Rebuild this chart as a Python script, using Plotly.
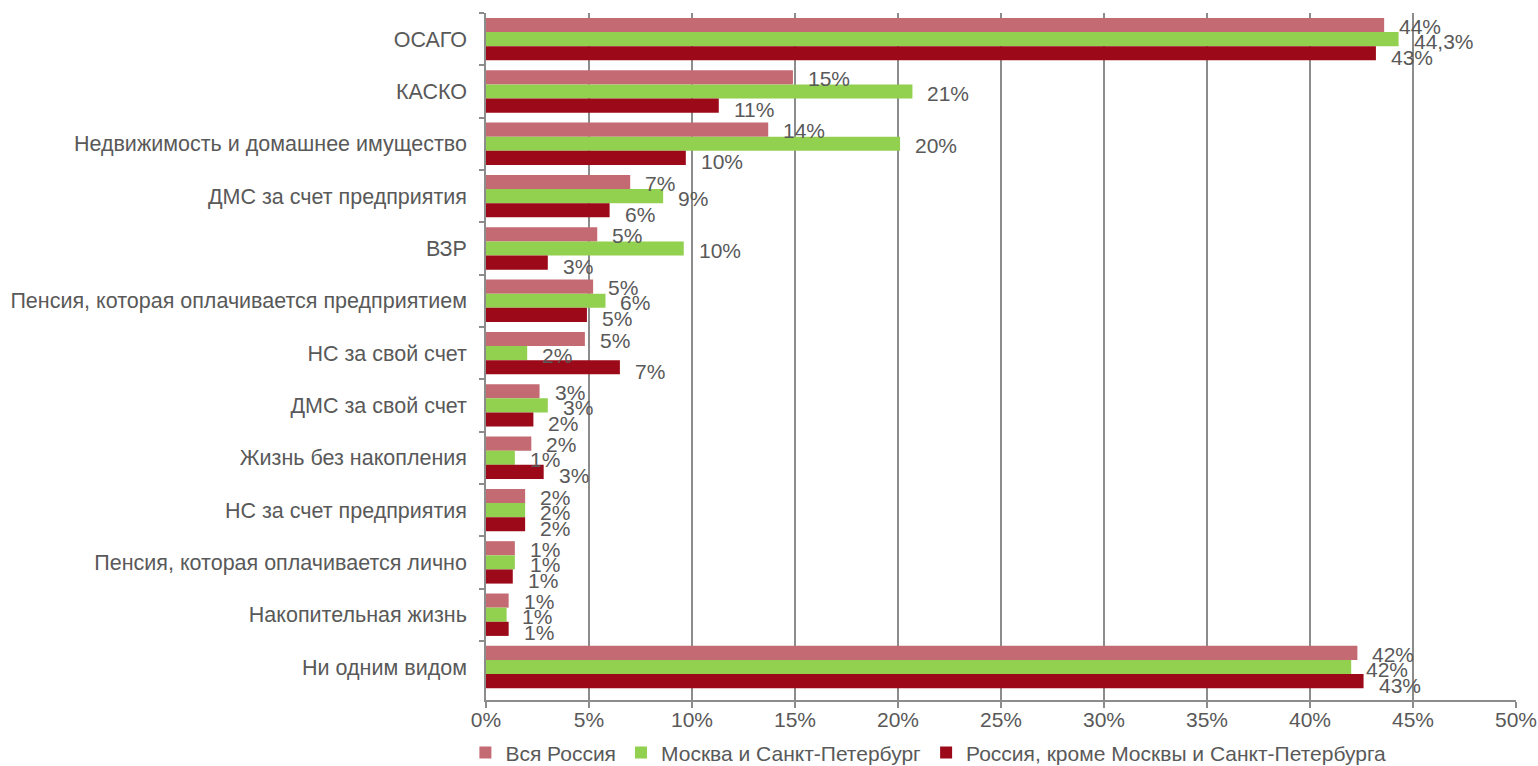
import math
import plotly.graph_objects as go

# Survey categories (top to bottom)
categories = [
    "ОСАГО",
    "КАСКО",
    "Недвижимость и домашнее имущество",
    "ДМС за счет предприятия",
    "ВЗР",
    "Пенсия, которая оплачивается предприятием",
    "НС за свой счет",
    "ДМС за свой счет",
    "Жизнь без накопления",
    "НС за счет предприятия",
    "Пенсия, которая оплачивается лично",
    "Накопительная жизнь",
    "Ни одним видом",
]

# Share of respondents, %
vsya_rossiya = [43.6, 14.9, 13.7, 7.0, 5.4, 5.2, 4.8, 2.6, 2.2, 1.9, 1.4, 1.1, 42.3]
moskva_spb = [44.3, 20.7, 20.1, 8.6, 9.6, 5.8, 2.0, 3.0, 1.4, 1.9, 1.4, 1.0, 42.0]
rossiya_krome = [43.2, 11.3, 9.7, 6.0, 3.0, 4.9, 6.5, 2.3, 2.8, 1.9, 1.3, 1.1, 42.6]

series_names = [
    "Вся Россия",
    "Москва и Санкт-Петербург",
    "Россия, кроме Москвы и Санкт-Петербурга",
]
series_values = [vsya_rossiya, moskva_spb, rossiya_krome]
series_colors = ["#C46A72", "#92D050", "#9C0A1A"]

# Labels shown with one decimal place
label_decimals = {("Москва и Санкт-Петербург", "ОСАГО"): 1}

FONT = "Liberation Sans, Arial, sans-serif"
TEXT_COLOR = "#595959"
GRID_COLOR = "#8C8C8C"
FS = 21


def fmt_label(name, cat, v):
    d = label_decimals.get((name, cat), 0)
    scale = 10 ** d
    r = math.floor(v * scale + 0.5) / scale  # round half up
    return f"{r:.{d}f}".replace(".", ",") + "%"


fig = go.Figure()
for name, vals, color in zip(series_names, series_values, series_colors):
    fig.add_trace(
        go.Bar(
            name=name,
            y=categories,
            x=vals,
            orientation="h",
            marker=dict(color=color, line=dict(width=0)),
        )
    )

# Value labels beside each bar end
shifts = [13, -2, -18]
annotations = []
for name, vals, ys in zip(series_names, series_values, shifts):
    for cat, v in zip(categories, vals):
        annotations.append(
            dict(
                x=v,
                y=cat,
                xref="x",
                yref="y",
                text=fmt_label(name, cat, v),
                showarrow=False,
                xanchor="left",
                yanchor="middle",
                xshift=13,
                yshift=ys,
                font=dict(family=FONT, size=FS, color=TEXT_COLOR),
            )
        )

fig.update_layout(
    barmode="group",
    bargap=0.19,
    bargroupgap=0,
    width=1538,
    height=766,
    margin=dict(l=486, r=22, t=13, b=66, autoexpand=False),
    paper_bgcolor="white",
    plot_bgcolor="white",
    font=dict(family=FONT, size=FS, color=TEXT_COLOR),
    annotations=annotations,
    showlegend=True,
    legend=dict(
        orientation="h",
        x=-0.02,
        xanchor="left",
        y=-0.077,
        yanchor="middle",
        font=dict(family=FONT, size=FS, color=TEXT_COLOR),
        itemwidth=30,
        bgcolor="rgba(0,0,0,0)",
    ),
)

fig.update_xaxes(
    range=[0, 50],
    dtick=5,
    ticksuffix="%",
    showgrid=True,
    gridcolor=GRID_COLOR,
    gridwidth=1.5,
    showline=True,
    linecolor=GRID_COLOR,
    linewidth=1.5,
    ticks="outside",
    ticklen=6,
    tickcolor=GRID_COLOR,
    tickwidth=1.5,
    ticklabelstandoff=-6,
    zeroline=False,
    tickfont=dict(family=FONT, size=FS, color=TEXT_COLOR),
)

fig.update_yaxes(
    type="category",
    categoryorder="array",
    categoryarray=categories,
    range=[12.63, -0.5],
    tickson="boundaries",
    showgrid=False,
    showline=True,
    linecolor=GRID_COLOR,
    linewidth=1.5,
    ticks="outside",
    ticklen=5,
    tickcolor=GRID_COLOR,
    tickwidth=1.5,
    ticklabelstandoff=13,
    tickfont=dict(family=FONT, size=21.5, color=TEXT_COLOR),
)

fig.write_html("out.html")
